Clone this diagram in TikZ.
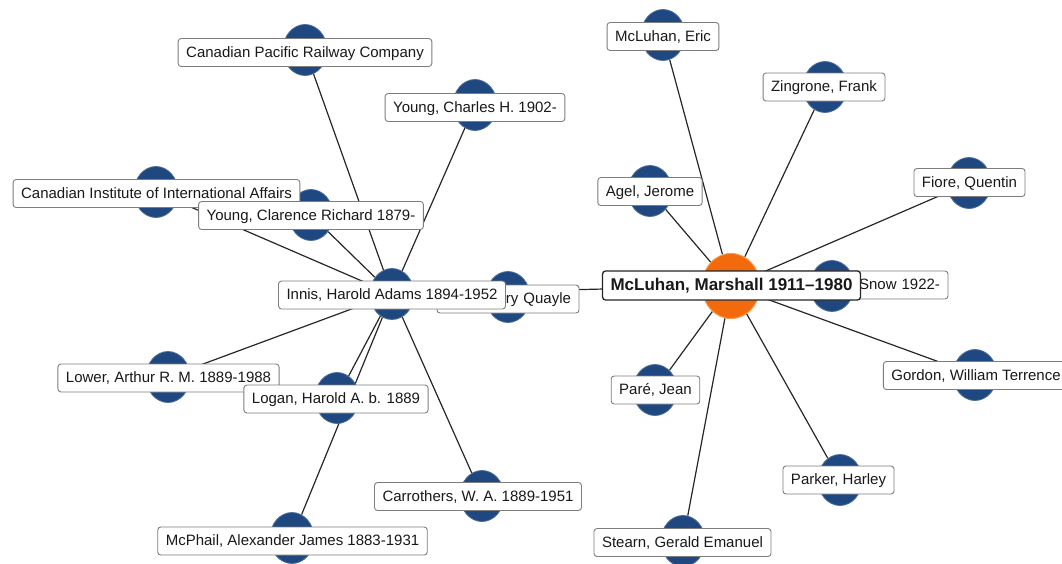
\documentclass[tikz,border=0pt]{standalone}
\usepackage{fontspec}
\setmainfont{Liberation Sans}
\usetikzlibrary{shapes.geometric}
\pgfdeclarelayer{bg}
\pgfsetlayers{bg,main}
\definecolor{nodeblue}{RGB}{31,72,128}
\definecolor{hub}{RGB}{242,106,12}
\definecolor{hubedge}{RGB}{250,150,70}
\definecolor{boxline}{RGB}{125,125,125}
\definecolor{txt}{RGB}{25,25,25}
\tikzset{
 dot/.style={ellipse, fill=nodeblue, draw=nodeblue!80!white, line width=0.8pt, minimum width=44pt, minimum height=51pt, inner sep=0pt},
 hubdot/.style={ellipse, fill=hub, draw=hubedge, line width=1pt, minimum width=58pt, minimum height=65pt, inner sep=0pt},
 lbl/.style={rectangle, rounded corners=3pt, draw=boxline, line width=0.9pt, fill=white, text=txt, font=\fontsize{15}{18}\selectfont, inner xsep=8pt, inner ysep=0pt, minimum height=28pt, text height=11pt, text depth=2pt},
 hublbl/.style={lbl, draw=black!85, line width=1.3pt, font=\fontsize{17}{20}\selectfont\bfseries, minimum height=29pt, text height=12.5pt, text depth=2.5pt},
 link/.style={draw=black!85, line width=1.2pt},
}
\begin{document}
\begin{tikzpicture}[x=1pt,y=-1pt]
\useasboundingbox (0,0) rectangle (1062,563);
% circles
\node[dot] (innis) at (392,294) {};
\node[dot] (cpr) at (305,50) {};
\node[dot] (ych) at (475,105) {};
\node[dot] (ciia) at (156,192) {};
\node[dot] (ycl) at (311,215) {};
\node[dot] (quayle) at (508,297) {};
\node[dot] (snow) at (832,286) {};
\node[dot] (lower) at (168,377) {};
\node[dot] (logan) at (337,398) {};
\node[dot] (carr) at (482,496) {};
\node[dot] (mcph) at (292,538) {};
\node[dot] (eric) at (663,35) {};
\node[dot] (zing) at (825,87) {};
\node[dot] (agel) at (650,191) {};
\node[dot] (fiore) at (969,183) {};
\node[dot] (pare) at (655,390) {};
\node[dot] (parker) at (840,480) {};
\node[dot] (stearn) at (683,541) {};
\node[dot] (gordon) at (975,375) {};
\node[hubdot] (mcl) at (731,286) {};
% connectors
\begin{pgfonlayer}{bg}
\foreach \n in {cpr,ych,ciia,ycl,lower,logan,carr,mcph} \draw[link] (innis) -- (\n);
\draw[link] (innis) -- (mcl);
\foreach \n in {eric,zing,agel,fiore,gordon,parker,stearn,pare} \draw[link] (mcl) -- (\n);
\end{pgfonlayer}
% labels
\node[lbl] (cprL) at (305,52.5) {Canadian Pacific Railway Company};
\node[lbl] (ychL) at (475,107.5) {Young, Charles H. 1902-};
\node[lbl] (ciiaL) at (156.5,193.5) {Canadian Institute of International Affairs};
\node[lbl] (yclL) at (311,215.5) {Young, Clarence Richard 1879-};
\node[lbl, text width=126pt, align=right] (quayleL) at (508,299) {ry Quayle};
\node[lbl] (innisL) at (392,295) {Innis, Harold Adams 1894-1952};
\node[lbl] (lowerL) at (168.5,378) {Lower, Arthur R. M. 1889-1988};
\node[lbl] (loganL) at (336,399) {Logan, Harold A. b. 1889};
\node[lbl] (carrL) at (478,496.5) {Carrothers, W. A. 1889-1951};
\node[lbl] (mcphL) at (292.5,541) {McPhail, Alexander James 1883-1931};
\node[lbl, text width=216pt, align=right] (snowL) at (832,285) {Snow 1922-};
\node[hublbl] (mclL) at (731.5,285.5) {McLuhan, Marshall 1911–1980};
\node[lbl] (ericL) at (663,36.5) {McLuhan, Eric};
\node[lbl] (zingL) at (824,87) {Zingrone, Frank};
\node[lbl] (agelL) at (650,191.5) {Agel, Jerome};
\node[lbl] (fioreL) at (969.5,182.5) {Fiore, Quentin};
\node[lbl] (pareL) at (655.5,390) {Paré, Jean};
\node[lbl] (parkerL) at (838.5,480) {Parker, Harley};
\node[lbl] (stearnL) at (682.5,542.5) {Stearn, Gerald Emanuel};
\node[lbl] (gordonL) at (976,375.5) {Gordon, William Terrence};
\end{tikzpicture}
\end{document}
